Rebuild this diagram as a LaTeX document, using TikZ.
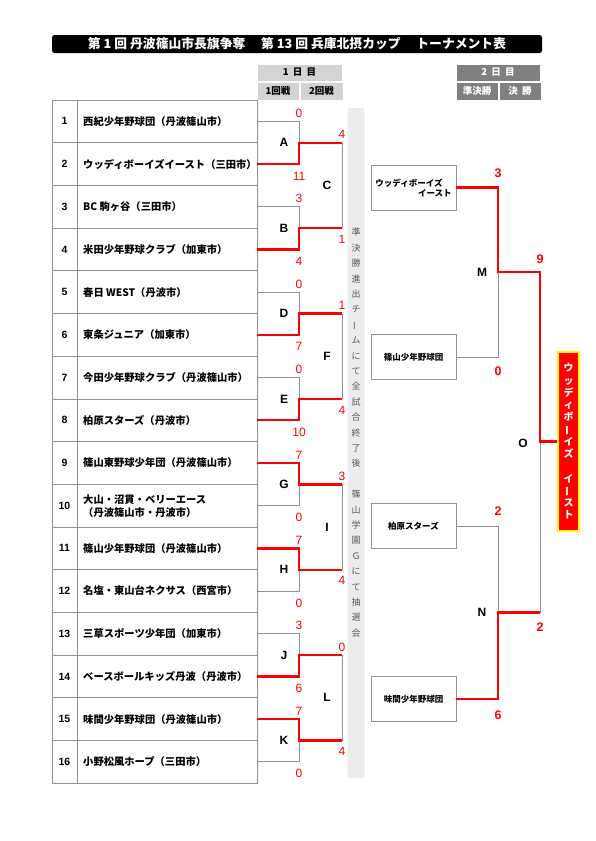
\documentclass[tikz,border=0pt]{standalone}
\usepackage{fontspec}
\usepackage{graphicx}
\setmainfont{Noto Sans CJK JP}
\newfontfamily\arialfont{Liberation Sans}
\usetikzlibrary{positioning,calc}
\definecolor{lineg}{HTML}{909090}
\definecolor{hdlight}{HTML}{D3D3D3}
\definecolor{hddark}{HTML}{808080}
\definecolor{stripg}{HTML}{ECECEC}
\definecolor{winred}{HTML}{FF0000}
\definecolor{champy}{HTML}{FFFF00}
\newcommand{\vbar}{\rotatebox[origin=c]{90}{ー}}
\tikzstyle{gline} = [draw=lineg, line width=0.8pt]
\tikzstyle{rline} = [draw=winred, line width=2.4pt]
\tikzstyle{score} = [text=winred, inner sep=0pt, font=\arialfont\fontsize{12}{12}\selectfont]
\tikzstyle{bigscore} = [text=winred, inner sep=0pt, font=\arialfont\bfseries\fontsize{12.5}{12.5}\selectfont]
\tikzstyle{mlabel} = [inner sep=0pt, font=\arialfont\bfseries\fontsize{12}{12}\selectfont]
\tikzstyle{seed} = [inner sep=0pt, font=\arialfont\bfseries\fontsize{10.5}{10.5}\selectfont]
\tikzstyle{team} = [anchor=west, inner sep=0pt, align=left, font=\bfseries\fontsize{10.3}{13}\selectfont]
\tikzstyle{hdcell} = [draw=white, line width=1pt, inner sep=0pt, font=\bfseries\fontsize{9.5}{9.5}\selectfont]
\tikzstyle{semibox} = [draw=lineg, line width=0.8pt, minimum width=85pt, minimum height=45pt, inner sep=0pt, align=right, font=\bfseries\fontsize{8.5}{10}\selectfont]

\begin{document}
\begin{tikzpicture}[x=1pt,y=-1pt]
    \useasboundingbox (0,0) rectangle (595,841);
    % title
    \node[fill=black, rounded corners=2.5pt, minimum width=490pt, minimum height=18pt, inner sep=0pt, text=white, font=\bfseries\fontsize{12.8}{12.8}\selectfont] (title) at (297,44) {第 1 回 丹波篠山市長旗争奪　 第 13 回 兵庫北摂カップ　 トーナメント表};
    % day headers
    \node[hdcell, fill=hdlight, minimum width=85pt, minimum height=17pt] (day1) at (299.5,72.5) {1 \ 日 \ 目};
    \node[hdcell, fill=hdlight, minimum width=42pt, minimum height=18pt, below right=0pt of day1.south west] (rd1) {1回戦};
    \node[hdcell, fill=hdlight, minimum width=43pt, minimum height=18pt, right=0pt of rd1] (rd2) {2回戦};
    \node[hdcell, fill=hddark, text=white, minimum width=84pt, minimum height=17pt] (day2) at (498,72.5) {2 \ 日 \ 目};
    \node[hdcell, fill=hddark, text=white, minimum width=42pt, minimum height=18pt, below right=0pt of day2.south west] (rd3) {準決勝};
    \node[hdcell, fill=hddark, text=white, minimum width=42pt, minimum height=18pt, right=0pt of rd3] (rd4) {決 \ 勝};
    % team table
    \draw[gline] (52,100) rectangle (257,783.2);
    \draw[gline] (77,100) -- (77,783.2);
    \foreach \i in {1,...,15}
        \draw[gline] (52,{100+\i*42.7}) -- (257,{100+\i*42.7});
    \foreach \i/\name in {1/西紀少年野球団（丹波篠山市）, 2/ウッディボーイズイースト（三田市）, 3/BC 駒ヶ谷（三田市）, 4/米田少年野球クラブ（加東市）, 5/春日 WEST（丹波市）, 6/東条ジュニア（加東市）, 7/今田少年野球クラブ（丹波篠山市）, 8/柏原スターズ（丹波市）, 9/篠山東野球少年団（丹波篠山市）, 10/{大山・沼貫・ベリーエース\\（丹波篠山市・丹波市）}, 11/篠山少年野球団（丹波篠山市）, 12/名塩・東山台ネクサス（西宮市）, 13/三草スポーツ少年団（加東市）, 14/ベースボールキッズ丹波（丹波市）, 15/味間少年野球団（丹波篠山市）, 16/小野松風ホープ（三田市）}{
        \node[seed] (n\i) at (64.5,{100+(\i-0.5)*42.7}) {\i};
        \node[team] (t\i) at (83,{100+(\i-0.5)*42.7}) {\name};
        \coordinate (r\i) at (257,{100+(\i-0.5)*42.7});
    }
    % notice strip
    \node[fill=stripg, rounded corners=2pt, minimum width=17pt, minimum height=670pt, inner sep=0pt] (strip) at (356,443) {};
    \node[anchor=north, inner sep=0pt, align=center, text=black!65, font=\fontsize{9}{15.4}\selectfont] (notice) at (356,228) {準\\決\\勝\\進\\出\\チ\\\vbar\\ム\\に\\て\\全\\試\\合\\終\\了\\後\\[15.4pt]篠\\山\\学\\園\\Ｇ\\に\\て\\抽\\選\\会};
    % first round
    \foreach \mt/\ra/\rb/\va/\vb/\wn/\ls in {A/1/2/0/11/2/1, B/3/4/3/4/4/3, D/5/6/0/7/6/5, E/7/8/0/10/8/7, G/9/10/7/0/9/10, H/11/12/7/0/11/12, J/13/14/3/6/14/13, K/15/16/7/0/15/16}{
        \coordinate (\mt) at (299,{100+\ra*42.7});
        \coordinate (\mt out) at (342,{100+\ra*42.7});
        \draw[gline] (r\ls) -| (\mt);
        \draw[rline] (r\wn) -| (\mt) -- (\mt out);
        \node[mlabel] (lab\mt) at (284,{100+\ra*42.7}) {\mt};
        \node[score] (s\mt a) at ($(r\ra)+(42,-8)$) {\va};
        \node[score] (s\mt b) at ($(r\rb)+(42,12)$) {\vb};
    }
    % second round
    \foreach \mt/\pa/\pb/\va/\vb in {C/A/B/4/1, F/D/E/1/4, I/G/H/3/4, L/J/K/0/4}{
        \draw[gline] (\pa out) -- (\pb out);
        \node[mlabel] (lab\mt) at ($(\pa out)!0.5!(\pb out)+(-15,0)$) {\mt};
        \node[score] (s\mt a) at ($(\pa out)+(0,-8)$) {\va};
        \node[score] (s\mt b) at ($(\pb out)+(0,11)$) {\vb};
    }
    % semifinal and final
    \node[semibox] (sf1) at (413.5,187.5) {ウッディボーイズ\rule{9pt}{0pt}\\イースト};
    \node[semibox] (sf2) at (413.5,357) {篠山少年野球団};
    \node[semibox] (sf3) at (413.5,526) {柏原スターズ};
    \node[semibox] (sf4) at (413.5,699) {味間少年野球団};
    \node[fill=winred, draw=champy, line width=2pt, minimum width=21pt, minimum height=179pt, inner sep=0pt, text=white, align=center, font=\bfseries\fontsize{10}{12.25}\selectfont] (champ) at (568.5,441.5) {ウ\\ッ\\デ\\ィ\\ボ\\\vbar\\イ\\ズ\\[12.25pt]イ\\\vbar\\ス\\ト};
    \coordinate (M) at (498,272.25);
    \coordinate (Mout) at (540,272.25);
    \coordinate (N) at (498,612.5);
    \coordinate (Nout) at (540,612.5);
    \draw[gline] (sf2.east) -| (M);
    \draw[gline] (sf3.east) -| (N);
    \draw[gline] (Mout) -- (Nout);
    \draw[rline] (sf1.east) -| (M) -- (Mout) |- (champ.west);
    \draw[rline] (sf4.east) -| (N) -- (Nout);
    \node[mlabel] (labM) at (482,272) {M};
    \node[mlabel] (labN) at (482,612) {N};
    \node[mlabel] (labO) at (523,443) {O};
    \node[bigscore] (sMa) at (498,173.5) {3};
    \node[bigscore] (sMb) at (498,371) {0};
    \node[bigscore] (sNa) at (498,511) {2};
    \node[bigscore] (sNb) at (498,715) {6};
    \node[bigscore] (sOa) at ($(Mout)+(0,-13)$) {9};
    \node[bigscore] (sOb) at ($(Nout)+(0,15)$) {2};
\end{tikzpicture}
\end{document}
